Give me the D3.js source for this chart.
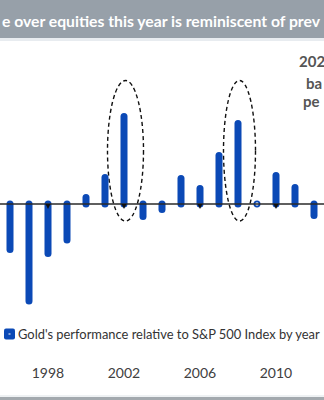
<!DOCTYPE html>
<html><head><meta charset="utf-8">
<script src="https://cdn.jsdelivr.net/npm/d3@7"></script>
<style>html,body{margin:0;padding:0;background:#fff;overflow:hidden}</style>
</head><body>
<script>
const years = [1996,1997,1998,1999,2000,2001,2002,2003,2004,2005,2006,2007,2008,2009,2010,2011,2012];
const relPerf = [-24,-51,-26,-19,3.4,14,46,-6.6,-2.9,13.4,8.2,25.5,42.4,0,15,8.7,-6];
const tickYears = [1998,2002,2006,2010];
const highlightYears = [2002,2008];
const titleText = "e over equities this year is reminiscent of prev";
const noteLines = ["202","ba","pe"];
const legendText = "Gold's performance relative to S&P 500 Index by year";

const W = 324, H = 400;
const svg = d3.select("body").append("svg").attr("width", W).attr("height", H)
  .style("font-family", "Lato, 'Open Sans', sans-serif");

function fitWidth(sel, target) {
  const fs = parseFloat(sel.attr("font-size"));
  const w = sel.node().getComputedTextLength();
  if (w > target) sel.attr("font-size", (fs * target / w).toFixed(2));
  return sel;
}

// header band
svg.append("rect").attr("x",0).attr("y",0).attr("width",W).attr("height",38).attr("fill","#97a0a9");
svg.append("rect").attr("x",0).attr("y",38).attr("width",W).attr("height",3).attr("fill","#e8ecf0");
fitWidth(svg.append("text").attr("x",2).attr("y",27).attr("fill","#fff").attr("font-weight","bold")
  .attr("font-size",17).text(titleText), 318);

const x = d3.scalePoint().domain(years).range([10, 314]);
const y = d3.scaleLinear().domain([-60, 60]).range([318, 90]);
const blue = "#0b49b6";

// highlight ellipses
svg.selectAll("ellipse.hl").data(highlightYears).join("ellipse")
  .attr("cx", d => x(d) + 1.5)
  .attr("cy", (y(65) + y(-9)) / 2)
  .attr("rx", (d,i) => i === 0 ? 18 : 16)
  .attr("ry", (y(-9) - y(65)) / 2)
  .attr("fill","none").attr("stroke","#111").attr("stroke-width",1.4).attr("stroke-dasharray","4,3");

// bars
const data = years.map((yr,i) => ({yr, v: relPerf[i]}));
svg.selectAll("line.bar").data(data.filter(d => Math.abs(d.v) >= 1)).join("line")
  .attr("x1", d => x(d.yr)).attr("x2", d => x(d.yr))
  .attr("y1", y(0)).attr("y2", d => y(d.v))
  .attr("stroke", blue).attr("stroke-width", 7).attr("stroke-linecap","round");
svg.selectAll("circle.bar").data(data.filter(d => Math.abs(d.v) < 1)).join("circle")
  .attr("cx", d => x(d.yr)).attr("cy", d => y(d.v))
  .attr("r", 2.6).attr("fill","#fff").attr("stroke", blue).attr("stroke-width",1.8);

// zero axis
svg.append("line").attr("x1",0).attr("x2",W).attr("y1",y(0)).attr("y2",y(0))
  .attr("stroke","#2a2a2a").attr("stroke-width",1.5);
svg.selectAll("path.tick").data(tickYears).join("path")
  .attr("d", d => `M${x(d)-2.5},${y(0)} L${x(d)+2.5},${y(0)} L${x(d)},${y(0)+5} Z`)
  .attr("fill","#111");

// note text (top right)
const noteX = [299, 306, 303], noteY = [67, 89, 107];
svg.selectAll("text.note").data(noteLines).join("text")
  .attr("x", (d,i) => noteX[i]).attr("y", (d,i) => noteY[i])
  .attr("fill","#555").attr("font-weight","bold").attr("font-size",15).text(d => d);

// legend
svg.append("rect").attr("x",4).attr("y",328.5).attr("width",11).attr("height",11).attr("rx",2).attr("fill",blue);
svg.append("rect").attr("x",8.5).attr("y",333).attr("width",2).attr("height",2).attr("fill","#8aa6dc");
fitWidth(svg.append("text").attr("x",18).attr("y",339).attr("fill","#333").attr("font-size",15)
  .text(legendText), 302);

// year labels
svg.selectAll("text.yr").data(tickYears).join("text")
  .attr("x", d => x(d)).attr("y", 378).attr("text-anchor","middle")
  .attr("fill","#404040").attr("font-size",14).text(d => d);

// bottom band
svg.append("rect").attr("x",0).attr("y",395).attr("width",W).attr("height",2).attr("fill","#eef1f3");
svg.append("rect").attr("x",0).attr("y",397).attr("width",W).attr("height",3).attr("fill","#a3a9ae");
</script>
</body></html>
